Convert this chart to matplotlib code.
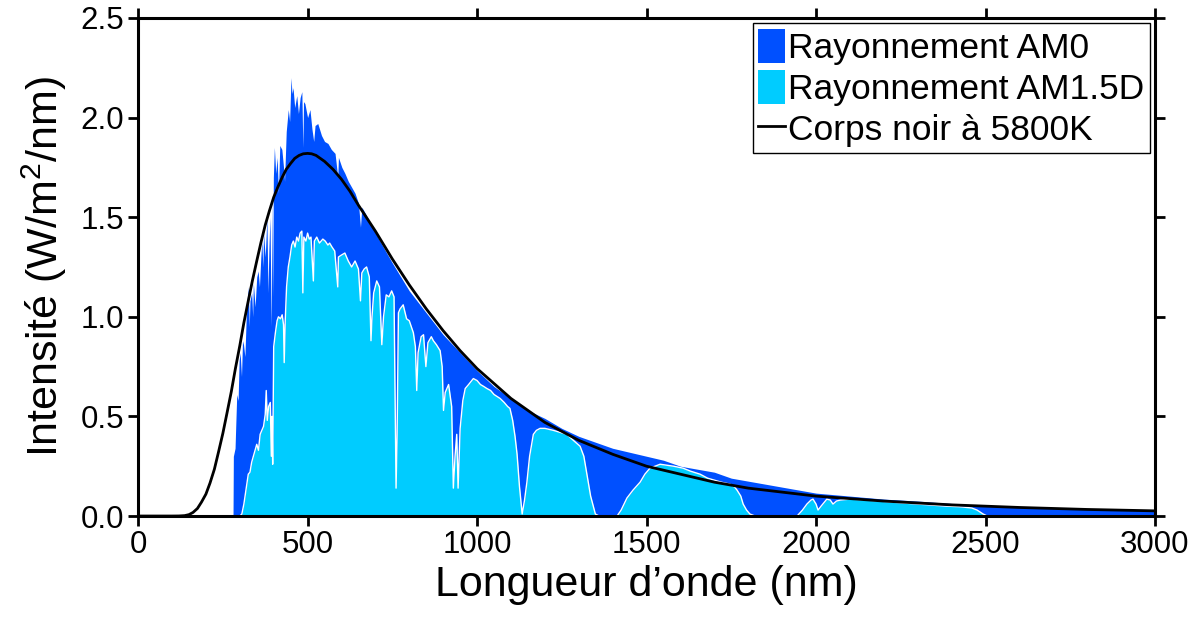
import matplotlib
matplotlib.use("Agg")
import matplotlib.pyplot as plt
import numpy as np

# spectre hors atmosphere (AM0)
am0_wl = [280, 281, 286, 288, 291, 295, 298, 301, 305, 308, 311, 315, 320, 325, 328,
          330, 335, 338, 340, 345, 350, 354, 358, 362, 365, 368, 370, 375, 380, 383,
          386, 389, 392, 393, 395, 397, 399, 402, 406, 410, 414, 418, 424, 429, 432,
          437, 443, 447, 451, 454, 457, 462, 468, 473, 478, 483, 486, 488, 492, 500,
          507, 513, 518, 522, 530, 541, 550, 560, 570, 581, 589, 591, 601, 610, 620,
          630, 640, 650, 656, 660, 670, 700, 750, 800, 850, 900, 950, 1000, 1050, 1100,
          1150, 1200, 1250, 1300, 1350, 1400, 1450, 1500, 1550, 1600, 1650, 1700, 1750,
          1800, 1850, 1900, 1950, 2000, 2100, 2200, 2300, 2400, 2500, 2600, 2700, 2800,
          2900, 3000]
am0_val = [0.0, 0.30, 0.34, 0.45, 0.61, 0.58, 0.78, 0.82, 0.70, 0.88, 0.86, 0.80, 1.05,
           1.15, 0.95, 1.08, 1.12, 1.00, 1.17, 1.05, 1.20, 1.23, 1.15, 1.30, 1.38, 1.25,
           1.42, 1.30, 1.50, 1.12, 1.35, 1.50, 1.05, 0.95, 1.60, 1.10, 1.70, 1.85, 1.72,
           1.80, 1.62, 1.86, 1.84, 1.75, 1.68, 1.93, 2.04, 1.98, 2.20, 2.12, 2.15, 2.05,
           2.11, 2.02, 2.10, 2.13, 1.85, 2.08, 2.07, 2.00, 2.04, 1.94, 1.88, 1.96, 1.97,
           1.91, 1.88, 1.87, 1.84, 1.82, 1.70, 1.80, 1.75, 1.72, 1.68, 1.65, 1.62, 1.57,
           1.45, 1.55, 1.52, 1.42, 1.27, 1.13, 1.02, 0.91, 0.82, 0.73, 0.65, 0.59, 0.53,
           0.49, 0.44, 0.40, 0.37, 0.34, 0.32, 0.30, 0.28, 0.25, 0.235, 0.22, 0.19, 0.175,
           0.16, 0.145, 0.13, 0.115, 0.10, 0.085, 0.075, 0.063, 0.053, 0.047, 0.04, 0.035,
           0.031, 0.027]

# spectre direct au sol (AM1.5D)
am15_wl = [300, 306, 312, 318, 325, 330, 335, 340, 345, 350, 355, 360, 365, 370, 375,
           378, 381, 385, 390, 393, 395, 397, 400, 405, 410, 414, 420, 425, 429, 431,
           434, 438, 443, 448, 453, 458, 463, 468, 473, 478, 483, 486, 489, 495, 500,
           505, 510, 517, 520, 527, 535, 545, 552, 560, 565, 572, 580, 589, 591, 600,
           610, 620, 630, 640, 650, 656, 660, 667, 674, 682, 687, 690, 695, 704, 712,
           719, 724, 732, 740, 748, 755, 761, 764, 768, 773, 782, 792, 800, 812, 818,
           822, 826, 835, 842, 849, 855, 865, 871, 880, 891, 897, 901, 906, 916, 925,
           930, 935, 940, 944, 950, 958, 965, 975, 989, 1000, 1010, 1020, 1029, 1040,
           1050, 1068, 1080, 1090, 1097, 1105, 1112, 1118, 1125, 1133, 1140, 1147,
           1155, 1166, 1175, 1186, 1200, 1225, 1245, 1265, 1284, 1304, 1315, 1324,
           1335, 1349, 1360, 1413, 1425, 1442, 1460, 1481, 1495, 1510, 1525, 1540,
           1560, 1580, 1608, 1630, 1658, 1680, 1700, 1720, 1746, 1760, 1767, 1778,
           1785, 1795, 1805, 1820, 1944, 1960, 1973, 1985, 1991, 2000, 2006, 2015,
           2032, 2042, 2050, 2060, 2071, 2100, 2150, 2189, 2220, 2260, 2300, 2336,
           2380, 2420, 2434, 2460, 2475, 2493, 2505, 3000]
am15_val = [0.0, 0.01, 0.06, 0.13, 0.21, 0.22, 0.27, 0.30, 0.33, 0.36, 0.33, 0.41, 0.43,
            0.45, 0.51, 0.63, 0.48, 0.55, 0.57, 0.30, 0.50, 0.26, 0.85, 0.92, 0.98, 1.00,
            0.99, 1.01, 0.96, 0.77, 0.98, 1.15, 1.25, 1.30, 1.36, 1.38, 1.35, 1.40, 1.38,
            1.42, 1.43, 1.12, 1.40, 1.38, 1.42, 1.39, 1.40, 1.18, 1.38, 1.40, 1.37, 1.39,
            1.38, 1.36, 1.37, 1.35, 1.33, 1.15, 1.30, 1.31, 1.32, 1.28, 1.25, 1.28, 1.24,
            1.08, 1.22, 1.24, 1.25, 1.20, 0.88, 1.00, 1.12, 1.18, 1.15, 0.86, 1.00, 1.11,
            1.10, 1.13, 1.10, 0.14, 0.40, 1.02, 1.04, 1.06, 0.99, 0.98, 0.92, 0.85, 0.63,
            0.82, 0.90, 0.91, 0.75, 0.87, 0.90, 0.88, 0.86, 0.83, 0.75, 0.53, 0.62, 0.66,
            0.55, 0.14, 0.30, 0.41, 0.14, 0.44, 0.58, 0.64, 0.66, 0.69, 0.68, 0.66, 0.65,
            0.64, 0.63, 0.61, 0.59, 0.57, 0.55, 0.54, 0.48, 0.40, 0.31, 0.15, 0.01, 0.08,
            0.17, 0.30, 0.41, 0.43, 0.44, 0.44, 0.43, 0.42, 0.41, 0.38, 0.35, 0.30, 0.21,
            0.10, 0.01, 0.0, 0.0, 0.03, 0.09, 0.13, 0.17, 0.21, 0.24, 0.25, 0.26, 0.255,
            0.25, 0.24, 0.225, 0.21, 0.19, 0.18, 0.17, 0.16, 0.145, 0.13, 0.10, 0.06,
            0.03, 0.01, 0.0, 0.0, 0.03, 0.06, 0.08, 0.085, 0.06, 0.03, 0.05, 0.085, 0.08,
            0.06, 0.075, 0.08, 0.085, 0.08, 0.075, 0.07, 0.065, 0.06, 0.055, 0.05, 0.047,
            0.045, 0.04, 0.03, 0.01, 0.0, 0.0]

# corps noir a 5800 K (mis a l'echelle)
bb_wl = [0, 100, 120, 137, 150, 162, 175, 187, 200, 212, 225, 237, 250, 262, 275, 287,
         300, 312, 325, 337, 350, 362, 375, 387, 400, 412, 425, 437, 450, 462, 475,
         487, 500, 512, 525, 550, 575, 600, 625, 650, 700, 750, 800, 850, 900, 950,
         1000, 1100, 1200, 1300, 1400, 1500, 1600, 1700, 1800, 1900, 2000, 2200, 2400,
         2600, 2800, 3000]
bb_val = [0.0, 0.0, 0.0003, 0.002, 0.007, 0.018, 0.038, 0.07, 0.11, 0.165, 0.235, 0.32,
          0.415, 0.515, 0.625, 0.74, 0.855, 0.97, 1.08, 1.18, 1.28, 1.37, 1.46, 1.53,
          1.60, 1.65, 1.70, 1.74, 1.77, 1.795, 1.81, 1.818, 1.82, 1.818, 1.81, 1.78,
          1.74, 1.69, 1.63, 1.56, 1.43, 1.29, 1.16, 1.04, 0.93, 0.83, 0.74, 0.59, 0.47,
          0.38, 0.31, 0.25, 0.21, 0.17, 0.14, 0.12, 0.10, 0.075, 0.056, 0.043, 0.033,
          0.026]

plt.rcParams['font.family'] = ['Liberation Sans', 'DejaVu Sans']
plt.rcParams['mathtext.fontset'] = 'custom'
plt.rcParams['mathtext.rm'] = 'Liberation Sans'
plt.rcParams['mathtext.default'] = 'rm'

fig = plt.figure(figsize=(12.01, 6.18), dpi=100)
ax = fig.add_axes([0.115, 0.165, 0.8467, 0.806])

ax.fill_between(am0_wl, am0_val, 0, color='#0050ff', linewidth=0,
                label='Rayonnement AM0')
ax.fill_between(am15_wl, am15_val, 0, color='#00ccff', linewidth=0,
                label='Rayonnement AM1.5D')
ax.plot(am15_wl, am15_val, color='white', linewidth=1.0)
ax.plot(bb_wl, bb_val, color='black', linewidth=2.0, solid_joinstyle='round',
        label='Corps noir à 5800K')

ax.set_xlim(0, 3000)
ax.set_ylim(0, 2.5)
ax.set_xticks(np.arange(0, 3001, 500))
ax.set_yticks(np.arange(0, 2.51, 0.5))
ax.set_yticklabels(['%.1f' % v for v in np.arange(0, 2.51, 0.5)])

for s in ax.spines.values():
    s.set_linewidth(2.2)
ax.tick_params(direction='out', length=7, width=2, labelsize=22.5,
               top=True, right=True, pad=3)

ax.set_xlabel('Longueur d’onde (nm)', fontsize=31)
ax.set_ylabel('Intensité (W/m$^2$/nm)', fontsize=31, labelpad=8)

leg = ax.legend(loc='upper right', fontsize=25.5, frameon=True, fancybox=False,
                framealpha=1, edgecolor='black', borderaxespad=0.15,
                borderpad=0.15, labelspacing=0.15, handlelength=0.75,
                handleheight=1.1, handletextpad=0.1)
leg.get_frame().set_linewidth(1.0)

fig.savefig('out.png', dpi=100)
